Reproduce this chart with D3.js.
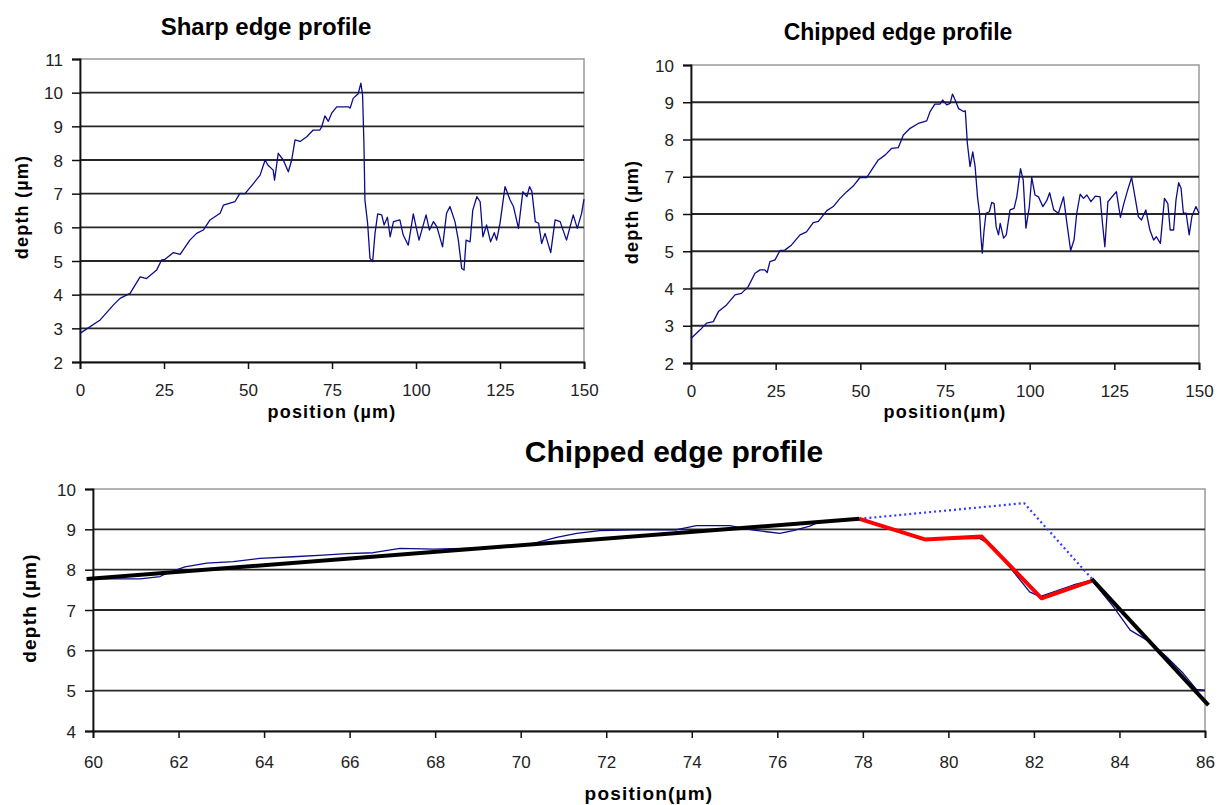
<!DOCTYPE html>
<html>
<head>
<meta charset="utf-8">
<script src="https://cdn.jsdelivr.net/npm/d3@7"></script>
<style>
  body { margin: 0; background: #fff; }
  svg { display: block; font-family: "Liberation Sans", Arial, sans-serif; }
  .tick text { font-size: 17px; fill: #222; }
  .title { font-weight: bold; fill: #000; }
  .axtitle { font-weight: bold; font-size: 18px; letter-spacing: 1.2px; fill: #000; }
</style>
</head>
<body>
<div class="container"></div>
<script>
// tick values
const topXTicks = [0, 25, 50, 75, 100, 125, 150];
const sharpYTicks = [2, 3, 4, 5, 6, 7, 8, 9, 10, 11];
const chippedYTicks = [2, 3, 4, 5, 6, 7, 8, 9, 10];
const zoomXTicks = [60, 62, 64, 66, 68, 70, 72, 74, 76, 78, 80, 82, 84, 86];
const zoomYTicks = [4, 5, 6, 7, 8, 9, 10];

// sharp edge profile
const sharpPos = [0, 6, 9.9, 11.9, 14.9, 17.9, 19.8, 22.8, 24.3, 25.3, 27.8, 29.8, 32.7, 34.7, 36.7, 38.7, 41.7, 42.7, 46.1, 47.6, 49.1, 51.6, 53.6, 55.1, 55.9, 57.5, 57.9, 59, 60.5, 62, 63, 64, 65.5, 67.5, 69.4, 71.4, 71.9, 72.9, 73.9, 74.9, 76.4, 79.9, 80.4, 81.3, 82.8, 83.6, 84.1, 84.5, 84.8, 85.6, 86.3, 87.1, 87.8, 88.6, 89.8, 90.5, 91.5, 92.3, 93.3, 95.2, 96.2, 97.7, 99.2, 99.9, 100.9, 103, 104, 105.2, 106.2, 107.9, 109.1, 110.1, 111.6, 112.6, 113.6, 114.3, 114.9, 116.1, 116.9, 118.1, 119.1, 119.9, 121, 122.2, 123.3, 124, 125, 126.5, 128, 129, 130.5, 131.8, 133, 133.8, 134.5, 135.5, 136.5, 137.4, 138.4, 140.1, 141.4, 142.9, 144.8, 146.8, 148, 149.3, 150];
const sharpDepth = [2.85, 3.25, 3.69, 3.89, 4.04, 4.53, 4.48, 4.73, 5.03, 5.05, 5.25, 5.2, 5.62, 5.82, 5.92, 6.22, 6.42, 6.66, 6.76, 7.01, 7.0, 7.3, 7.55, 8.0, 7.85, 7.7, 7.4, 8.2, 8.0, 7.65, 8.0, 8.6, 8.55, 8.69, 8.89, 8.89, 8.98, 9.31, 9.15, 9.39, 9.58, 9.58, 9.54, 9.83, 9.97, 10.28, 9.93, 8.49, 6.81, 6.12, 5.08, 4.98, 5.82, 6.4, 6.37, 6.07, 6.3, 5.72, 6.17, 6.22, 5.77, 5.47, 6.4, 6.07, 5.62, 6.37, 5.92, 6.17, 6.02, 5.42, 6.42, 6.62, 6.17, 5.62, 4.78, 4.73, 5.62, 5.57, 6.51, 6.91, 6.76, 5.72, 6.07, 5.57, 5.84, 5.62, 6.12, 7.21, 6.81, 6.62, 5.97, 7.06, 6.91, 7.21, 7.06, 6.17, 6.12, 5.52, 5.82, 5.25, 6.22, 6.17, 5.62, 6.37, 5.97, 6.42, 6.84];

// chipped edge profile
const chippedPos = [0, 2.7, 4.6, 6.6, 8.1, 10.5, 13, 14.9, 16.9, 18.9, 20.4, 21.8, 22.5, 23.3, 24.8, 26.3, 27.7, 29.7, 32.2, 34.1, 36.1, 37.6, 40.1, 42, 44, 46, 47.9, 49.9, 51.9, 53.3, 55.3, 57.3, 59.2, 61.2, 62.7, 64.7, 67.1, 69.6, 70.6, 72, 73.5, 74.3, 75.5, 76.5, 77.2, 78, 79, 80.5, 81, 81.6, 82.4, 83.2, 83.9, 84.6, 85.2, 85.6, 86, 86.5, 87.1, 88.1, 88.8, 89.5, 90.1, 90.8, 91.3, 92.3, 93.1, 94.2, 95.4, 96.2, 97.3, 98.1, 98.9, 99.9, 100.6, 101.6, 102.6, 103.9, 105.1, 105.9, 107.1, 108.5, 110, 111, 112.1, 113.1, 113.9, 114.9, 115.9, 116.9, 118.1, 119.4, 120.8, 121.5, 122.2, 123.1, 125.6, 126.8, 127.8, 128.8, 130.1, 131.1, 132.1, 133, 134.3, 135.5, 136.6, 137.4, 138.6, 139.8, 140.8, 141.5, 142.5, 143.2, 144, 144.7, 145.4, 146.2, 147.1, 147.9, 149.1, 150];
const chippedDepth = [2.66, 2.89, 3.07, 3.11, 3.38, 3.56, 3.83, 3.87, 4.05, 4.41, 4.5, 4.5, 4.43, 4.72, 4.77, 5.02, 5.03, 5.17, 5.44, 5.52, 5.77, 5.8, 6.09, 6.2, 6.42, 6.6, 6.75, 6.98, 6.98, 7.18, 7.45, 7.58, 7.76, 7.78, 8.12, 8.3, 8.43, 8.5, 8.75, 8.95, 8.95, 9.06, 8.93, 8.97, 9.22, 9.06, 8.83, 8.75, 8.77, 7.9, 7.27, 7.67, 7.27, 6.46, 6.02, 5.39, 4.95, 5.53, 6.02, 6.06, 6.31, 6.28, 5.66, 5.44, 5.75, 5.35, 5.44, 6.11, 6.15, 6.46, 7.22, 6.91, 5.62, 6.2, 6.98, 6.51, 6.46, 6.2, 6.37, 6.57, 6.11, 6.02, 6.46, 5.75, 5.02, 5.3, 6.02, 6.53, 6.42, 6.51, 6.33, 6.48, 6.46, 5.75, 5.12, 6.33, 6.6, 5.91, 6.28, 6.6, 6.98, 6.46, 5.93, 5.84, 6.11, 5.57, 5.3, 5.39, 5.21, 6.42, 6.28, 5.57, 5.57, 6.37, 6.84, 6.69, 6.02, 6.02, 5.44, 5.93, 6.2, 6.02];

// close-up of the chipped edge (60 - 86 µm)
const zoomPos = [60, 61.1, 61.57, 61.72, 62.15, 62.66, 63.28, 63.9, 64.68, 65.38, 65.93, 66.55, 67.18, 67.96, 69.52, 70.3, 70.84, 71.31, 71.85, 72.63, 73.65, 74.11, 74.89, 75.44, 75.75, 76.06, 76.37, 76.76, 76.99, 77.92, 79.33, 80.74, 81.05, 81.9, 82.14, 82.92, 83.35, 83.86, 84.25, 84.71, 85.1, 85.49, 85.8, 86];
const zoomDepth = [7.77, 7.77, 7.83, 7.91, 8.07, 8.16, 8.2, 8.28, 8.32, 8.36, 8.4, 8.42, 8.53, 8.51, 8.55, 8.65, 8.8, 8.9, 8.97, 8.99, 8.99, 9.09, 9.09, 8.98, 8.94, 8.9, 8.97, 9.08, 9.19, 9.25, 8.77, 8.77, 8.57, 7.45, 7.33, 7.62, 7.74, 7.08, 6.5, 6.21, 5.84, 5.43, 5.03, 5.01];
// fitted straight segments (black)
const fitLeftPos = [59.85, 77.92];
const fitLeftDepth = [7.77, 9.26];
const fitRightPos = [83.35, 86.08];
const fitRightDepth = [7.77, 4.64];
// chip outline (red)
const chipPos = [77.92, 79.45, 80.78, 82.18, 83.35];
const chipDepth = [9.26, 8.75, 8.82, 7.29, 7.72];
// original edge before chipping (dotted blue)
const origPos = [77.92, 81.77, 83.35];
const origDepth = [9.26, 9.65, 7.78];

const w = 1223;
const h = 805;
const svg = d3.select(".container")
    .append("svg")
    .attr("width", w)
    .attr("height", h);

const toPts = (xs, ys) => xs.map((v, i) => [v, ys[i]]);

// draws frame, gridlines and axes of one panel, returns scales
function panel(p) {
    const x = d3.scaleLinear().domain(p.xDomain).range([p.left, p.right]);
    const y = d3.scaleLinear().domain(p.yDomain).range([p.bottom, p.top]);
    const g = svg.append("g");

    // gray frame (top + right)
    g.append("rect")
        .attr("x", p.left).attr("y", p.top)
        .attr("width", p.right - p.left).attr("height", p.bottom - p.top)
        .attr("fill", "none").attr("stroke", "#9a9a9a").attr("stroke-width", 1.5);

    // gridlines
    g.selectAll(".grid")
        .data(p.yTicks.slice(1, -1))
        .enter()
        .append("line")
        .attr("x1", p.left).attr("x2", p.right)
        .attr("y1", d => y(d)).attr("y2", d => y(d))
        .attr("stroke", "#262626").attr("stroke-width", 1.8);

    const xa = g.append("g")
        .attr("transform", "translate(0," + p.bottom + ")")
        .call(d3.axisBottom(x).tickValues(p.xTicks).tickSize(7).tickPadding(p.xPad).tickFormat(d3.format("d")));
    const ya = g.append("g")
        .attr("transform", "translate(" + p.left + ",0)")
        .call(d3.axisLeft(y).tickValues(p.yTicks).tickSize(8).tickPadding(9).tickFormat(d3.format("d")));
    [xa, ya].forEach(a => {
        a.select(".domain").attr("stroke", "#111").attr("stroke-width", 1.8);
        a.selectAll(".tick line").attr("stroke", "#111").attr("stroke-width", 1.5);
        a.selectAll(".tick text").attr("font-family", null).attr("font-size", null);
    });
    ya.selectAll(".tick text").attr("dy", "0.36em");

    // titles
    svg.append("text").attr("class", "title")
        .attr("x", p.titleX).attr("y", p.titleY)
        .attr("text-anchor", "middle")
        .style("font-size", p.titleSize + "px")
        .text(p.title);
    svg.append("text").attr("class", "axtitle")
        .attr("x", (p.left + p.right) / 2).attr("y", p.xTitleY)
        .attr("text-anchor", "middle")
        .style("font-size", p.axSize + "px")
        .text(p.xTitle);
    svg.append("text").attr("class", "axtitle")
        .attr("transform", "translate(" + p.yTitleX + "," + p.yTitleY + ") rotate(-90)")
        .attr("text-anchor", "middle")
        .style("font-size", p.axSize + "px")
        .text("depth (µm)");
    return { x, y };
}

function drawLine(s, xs, ys, color, width, dash) {
    const line = d3.line().x(d => s.x(d[0])).y(d => s.y(d[1]));
    svg.append("path")
        .datum(toPts(xs, ys))
        .attr("d", line)
        .attr("fill", "none")
        .attr("stroke", color)
        .attr("stroke-width", width)
        .attr("stroke-linejoin", "round")
        .attr("stroke-dasharray", dash || null);
}

// top left: sharp edge
const s1 = panel({
    left: 80, right: 584, top: 59, bottom: 362,
    xDomain: [0, 150], yDomain: [2, 11], xTicks: topXTicks, yTicks: sharpYTicks, xPad: 15,
    title: "Sharp edge profile", titleX: 266, titleY: 35, titleSize: 24,
    xTitle: "position (µm)", xTitleY: 418, yTitleX: 28, yTitleY: 207, axSize: 18
});
drawLine(s1, sharpPos, sharpDepth, "#0c0c8a", 1.3);

// top right: chipped edge
const s2 = panel({
    left: 691, right: 1199, top: 65, bottom: 363,
    xDomain: [0, 150], yDomain: [2, 10], xTicks: topXTicks, yTicks: chippedYTicks, xPad: 15,
    title: "Chipped edge profile", titleX: 898, titleY: 40, titleSize: 23,
    xTitle: "position(µm)", xTitleY: 418, yTitleX: 638, yTitleY: 212, axSize: 18
});
drawLine(s2, chippedPos, chippedDepth, "#0c0c8a", 1.3);

// bottom: close-up of the chip
const s3 = panel({
    left: 93, right: 1205, top: 489, bottom: 731,
    xDomain: [60, 86], yDomain: [4, 10], xTicks: zoomXTicks, yTicks: zoomYTicks, xPad: 18,
    title: "Chipped edge profile", titleX: 674, titleY: 462, titleSize: 30,
    xTitle: "position(µm)", xTitleY: 800, yTitleX: 36, yTitleY: 608, axSize: 19
});
drawLine(s3, zoomPos, zoomDepth, "#0c0c8a", 1.3);
drawLine(s3, origPos, origDepth, "#2f3cff", 2.2, "2,3");
drawLine(s3, chipPos, chipDepth, "#ff0000", 4);
drawLine(s3, fitLeftPos, fitLeftDepth, "#000", 4);
drawLine(s3, fitRightPos, fitRightDepth, "#000", 4);
</script>
</body>
</html>
